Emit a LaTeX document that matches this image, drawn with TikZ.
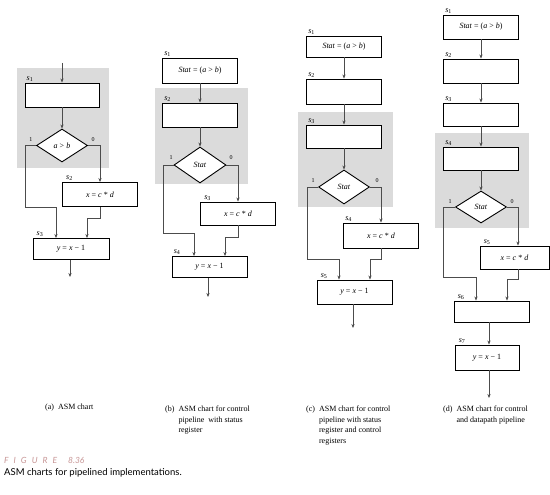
\documentclass[tikz,border=0pt]{standalone}
\usepackage{fontspec}
\setmainfont{Liberation Serif}
\newfontfamily\capfont{Lato}
\usetikzlibrary{shapes.geometric,arrows.meta}
\definecolor{figpink}{RGB}{200,150,150}
\newcommand{\stname}[1]{\textit{s}\textsubscript{#1}}
\newcommand{\mv}[1]{\textit{#1}}
\tikzset{
  box/.style={draw, line width=0.9pt, fill=white, inner sep=0pt, minimum width=75pt, minimum height=24pt, font=\fontsize{8}{9}\selectfont},
  dia/.style={diamond, draw, line width=0.9pt, fill=white, inner sep=0pt, minimum width=51pt, minimum height=33pt, font=\fontsize{8}{9}\selectfont},
  conn/.style={draw=black!70, line width=0.6pt},
  arr/.style={conn, -{Stealth[length=4pt,width=3.2pt]}},
  slab/.style={inner sep=1pt, anchor=south west, font=\fontsize{8}{9}\selectfont},
  blab/.style={inner sep=0pt, font=\fontsize{6}{7}\selectfont},
  bgshade/.style={fill=black!14},
  subcap/.style={inner sep=0pt, anchor=north west, font=\fontsize{8}{10.6}\selectfont, align=left}
}
\begin{document}
\begin{tikzpicture}[x=1pt,y=-1pt]
\useasboundingbox (0,0) rectangle (550,495);
\fill[white] (0,0) rectangle (550,495);

% ================= (a) =================
\fill[bgshade] (17,68) rectangle (109,168);
\node[box, minimum width=74pt] (a1) at (62,95) {};
\node[dia] (ad) at (62,145.5) {\mv{a} > \mv{b}};
\node[box] (a2) at (100,194.5) {\mv{x} = \mv{c} * \mv{d}};
\node[box, minimum width=76pt, minimum height=21pt] (a3) at (71,249) {\mv{y} = \mv{x} − 1};
\node[slab] (a1s) at ([xshift=1pt]a1.north west) {\stname{1}};
\node[slab] (a2s) at ([xshift=3pt]a2.north west) {\stname{2}};
\node[slab] (a3s) at ([xshift=3pt]a3.north west) {\stname{3}};
\node[blab] (a1b) at (31,140) {1};
\node[blab] (a0b) at (93,140) {0};
\coordinate (aTop) at (62,63);
\coordinate (aL) at (25,207);
\coordinate (aJ1) at (56,239);
\coordinate (aJ2) at (87,218);
\coordinate (aEnd) at (70,277);
\draw[arr] (aTop) -- (a1.north);
\draw[arr] (a1.south) -- (ad.north);
\draw[arr] (ad.west) -| (aL) -| (a3.north -| aJ1);
\draw[arr] (ad.east) -| (a2.north);
\draw[arr] (a2.south) |- (aJ2) -- (a3.north -| aJ2);
\draw[arr] (a3.south -| aEnd) -- (aEnd);

% ================= (b) =================
\fill[bgshade] (155,88) rectangle (248,184);
\node[box, minimum height=25pt] (b1) at (200,70.5) {\mv{Stat} = (\mv{a} > \mv{b})};
\node[box] (b2) at (200,115) {};
\node[dia, minimum width=52pt, minimum height=36pt] (bd) at (200,165) {\mv{Stat}};
\node[box, minimum height=23pt] (b3) at (238,213.5) {\mv{x} = \mv{c} * \mv{d}};
\node[box, minimum height=21pt] (b4) at (209.5,267) {\mv{y} = \mv{x} − 1};
\node[slab] (b1s) at ([xshift=1pt]b1.north west) {\stname{1}};
\node[slab] (b2s) at ([xshift=1pt]b2.north west) {\stname{2}};
\node[slab] (b3s) at ([xshift=3pt]b3.north west) {\stname{3}};
\node[slab] (b4s) at ([xshift=1pt]b4.north west) {\stname{4}};
\node[blab] (b1b) at (171,158) {1};
\node[blab] (b0b) at (231,158) {0};
\coordinate (bL) at (163,233);
\coordinate (bJ1) at (194,257);
\coordinate (bJ2) at (225,237);
\coordinate (bEnd) at (208,297);
\draw[arr] (b1.south) -- (b2.north);
\draw[arr] (b2.south) -- (bd.north);
\draw[arr] (bd.west) -| (bL) -| (b4.north -| bJ1);
\draw[arr] (bd.east) -| (b3.north);
\draw[arr] (b3.south) |- (bJ2) -- (b4.north -| bJ2);
\draw[arr] (b4.south -| bEnd) -- (bEnd);

% ================= (c) =================
\fill[bgshade] (298,112) rectangle (393,207);
\node[box, minimum height=21pt] (c1) at (344,46.5) {\mv{Stat} = (\mv{a} > \mv{b})};
\node[box, minimum height=25pt] (c2) at (344,91.5) {};
\node[box, minimum height=23pt] (c3) at (344,136.5) {};
\node[dia, minimum height=34pt] (cd) at (344,187) {\mv{Stat}};
\node[box, minimum height=25pt] (c4) at (381,235.5) {\mv{x} = \mv{c} * \mv{d}};
\node[box] (c5) at (354.5,292) {\mv{y} = \mv{x} − 1};
\node[slab] (c1s) at ([xshift=1pt]c1.north west) {\stname{1}};
\node[slab] (c2s) at ([xshift=1pt]c2.north west) {\stname{2}};
\node[slab] (c3s) at ([xshift=1pt]c3.north west) {\stname{3}};
\node[slab] (c4s) at ([xshift=1pt]c4.north west) {\stname{4}};
\node[slab] (c5s) at ([xshift=3pt]c5.north west) {\stname{5}};
\node[blab] (c1b) at (313,181) {1};
\node[blab] (c0b) at (377,181) {0};
\coordinate (cL) at (307,259);
\coordinate (cJ1) at (339,280);
\coordinate (cJ2) at (370,259);
\coordinate (cEnd) at (353,328);
\draw[arr] (c1.south) -- (c2.north);
\draw[arr] (c2.south) -- (c3.north);
\draw[arr] (c3.south) -- (cd.north);
\draw[arr] (cd.west) -| (cL) -| (c5.north -| cJ1);
\draw[arr] (cd.east) -| (c4.north);
\draw[arr] (c4.south) |- (cJ2) -- (c5.north -| cJ2);
\draw[arr] (c5.south -| cEnd) -- (cEnd);

% ================= (d) =================
\fill[bgshade] (435,133) rectangle (529,228);
\node[box] (d1) at (481,27) {\mv{Stat} = (\mv{a} > \mv{b})};
\node[box] (d2) at (481,71) {};
\node[box, minimum height=23pt] (d3) at (481,114.5) {};
\node[box, minimum height=23pt] (d4) at (481,158.5) {};
\node[dia, minimum height=32pt] (dd) at (481,207) {\mv{Stat}};
\node[box, minimum width=69pt, minimum height=23pt] (d5) at (514.5,257.5) {\mv{x} = \mv{c} * \mv{d}};
\node[box, minimum height=21pt] (d6) at (491.5,311.5) {};
\node[box, minimum width=64pt, minimum height=25pt] (d7) at (487,357.5) {\mv{y} = \mv{x} − 1};
\node[slab] (d1s) at ([xshift=1pt]d1.north west) {\stname{1}};
\node[slab] (d2s) at ([xshift=1pt]d2.north west) {\stname{2}};
\node[slab] (d3s) at ([xshift=1pt]d3.north west) {\stname{3}};
\node[slab] (d4s) at ([xshift=1pt]d4.north west) {\stname{4}};
\node[slab] (d5s) at ([xshift=3pt]d5.north west) {\stname{5}};
\node[slab] (d6s) at ([xshift=3pt]d6.north west) {\stname{6}};
\node[slab] (d7s) at ([xshift=3pt]d7.north west) {\stname{7}};
\node[blab] (d1b) at (450,202) {1};
\node[blab] (d0b) at (512,202) {0};
\coordinate (dL) at (443,277);
\coordinate (dJ1) at (476,301);
\coordinate (dR) at (518,246);
\coordinate (dJ2) at (507,279);
\coordinate (dM) at (489,330);
\coordinate (dEnd) at (489,398);
\draw[arr] (d1.south) -- (d2.north);
\draw[arr] (d2.south) -- (d3.north);
\draw[arr] (d3.south) -- (d4.north);
\draw[arr] (d4.south) -- (dd.north);
\draw[arr] (dd.west) -| (dL) -| (d6.north -| dJ1);
\draw[arr] (dd.east) -| (d5.north -| dR);
\draw[arr] (d5.south -| dR) |- (dJ2) -- (d6.north -| dJ2);
\draw[arr] (d6.south -| dM) -- (d7.north -| dM);
\draw[arr] (d7.south -| dEnd) -- (dEnd);

% ================= captions =================
\node[subcap] (capa) at (45,404) {(a)\hspace{4pt}ASM chart};
\node[subcap] (capb) at (165,404) {\begin{tabular}{@{}l@{\hspace{4pt}}l@{}}(b) & ASM chart for control\\ & pipeline\ \ with status\\ & register\end{tabular}};
\node[subcap] (capc) at (306,404) {\begin{tabular}{@{}l@{\hspace{4pt}}l@{}}(c) & ASM chart for control\\ & pipeline with status\\ & register and control\\ & registers\end{tabular}};
\node[subcap] (capd) at (443,404) {\begin{tabular}{@{}l@{\hspace{4pt}}l@{}}(d) & ASM chart for control\\ & and datapath pipeline\end{tabular}};
\node[inner sep=0pt, anchor=west, text=figpink, font=\capfont\fontsize{8.5}{10}\selectfont\itshape] (figno) at (4,460) {F\hspace{5pt}I\hspace{5pt}G\hspace{5pt}U\hspace{5pt}R\hspace{5pt}E\hspace{11pt}8.36};
\node[inner sep=0pt, anchor=west, font=\capfont\fontsize{9.5}{11}\selectfont] (figcap) at (4,473) {ASM charts for pipelined implementations.};
\end{tikzpicture}
\end{document}
